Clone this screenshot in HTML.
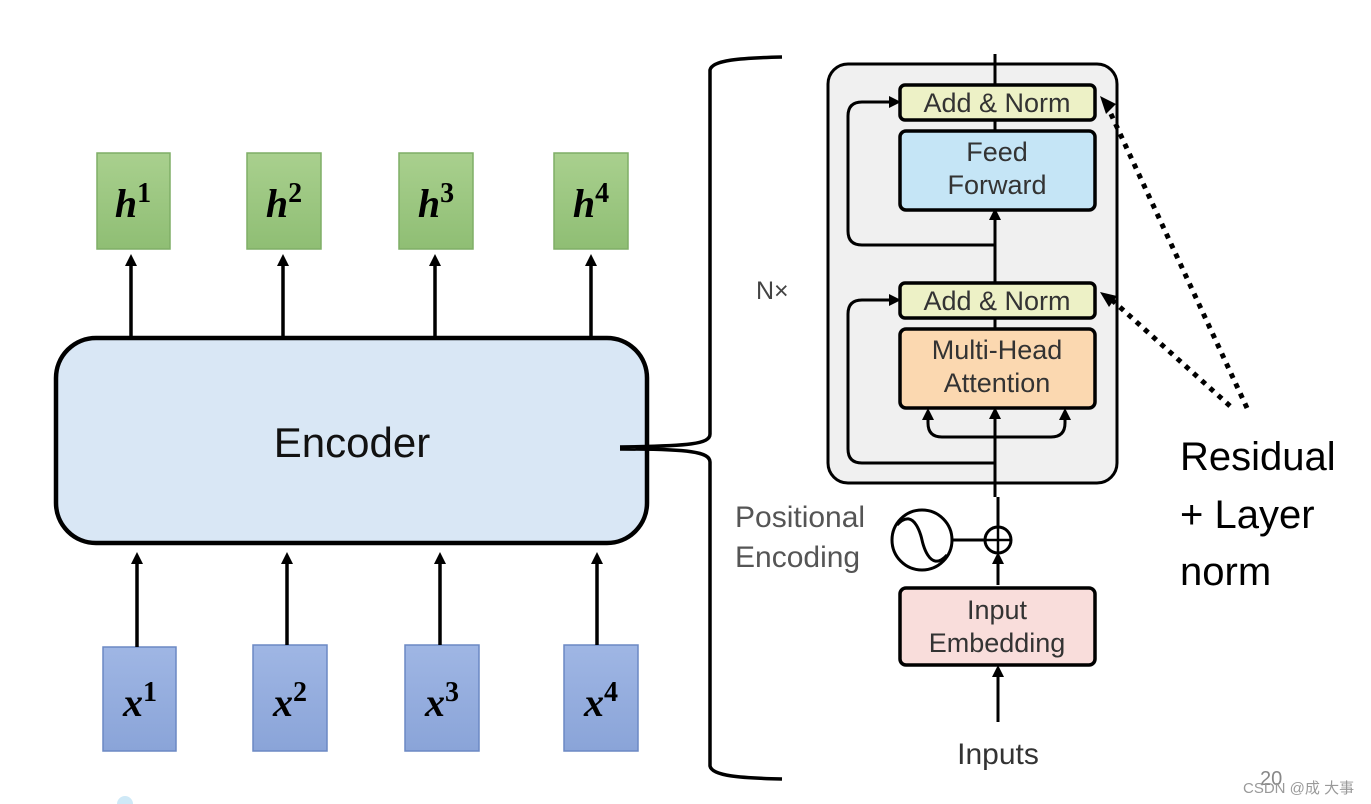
<!DOCTYPE html>
<html><head><meta charset="utf-8"><style>
html,body{margin:0;padding:0;background:#fff;width:1371px;height:804px;overflow:hidden}
svg{display:block}
</style></head><body>
<svg width="1371" height="804" viewBox="0 0 1371 804" xmlns="http://www.w3.org/2000/svg">
<defs>
<marker id="ah" markerWidth="12" markerHeight="12" refX="6" refY="6" orient="auto" markerUnits="userSpaceOnUse"><path d="M0,0 L12,6 L0,12 z" fill="#000"/></marker>
<linearGradient id="gg" x1="0" y1="0" x2="0" y2="1"><stop offset="0" stop-color="#a9d08e"/><stop offset="1" stop-color="#8fbe74"/></linearGradient>
<linearGradient id="bg" x1="0" y1="0" x2="0" y2="1"><stop offset="0" stop-color="#9fb6e4"/><stop offset="1" stop-color="#8aa4d8"/></linearGradient>
</defs>
<g font-family="'Liberation Serif',serif" font-weight="bold" font-style="italic" font-size="40" text-anchor="middle">
<rect x="97" y="153" width="73" height="96" fill="url(#gg)" stroke="#7fae66" stroke-width="1.5"/>
<text x="133" y="217">h<tspan font-style="normal" font-size="28" dy="-15">1</tspan></text>
<rect x="247" y="153" width="74" height="96" fill="url(#gg)" stroke="#7fae66" stroke-width="1.5"/>
<text x="284" y="217">h<tspan font-style="normal" font-size="28" dy="-15">2</tspan></text>
<rect x="399" y="153" width="74" height="96" fill="url(#gg)" stroke="#7fae66" stroke-width="1.5"/>
<text x="436" y="217">h<tspan font-style="normal" font-size="28" dy="-15">3</tspan></text>
<rect x="554" y="153" width="74" height="96" fill="url(#gg)" stroke="#7fae66" stroke-width="1.5"/>
<text x="591" y="217">h<tspan font-style="normal" font-size="28" dy="-15">4</tspan></text>

<rect x="103" y="647" width="73" height="104" fill="url(#bg)" stroke="#6b88c4" stroke-width="1.5"/>
<text x="140" y="716">x<tspan font-style="normal" font-size="28" dy="-15">1</tspan></text>
<rect x="253" y="645" width="74" height="106" fill="url(#bg)" stroke="#6b88c4" stroke-width="1.5"/>
<text x="290" y="716">x<tspan font-style="normal" font-size="28" dy="-15">2</tspan></text>
<rect x="405" y="645" width="74" height="106" fill="url(#bg)" stroke="#6b88c4" stroke-width="1.5"/>
<text x="442" y="716">x<tspan font-style="normal" font-size="28" dy="-15">3</tspan></text>
<rect x="564" y="645" width="74" height="106" fill="url(#bg)" stroke="#6b88c4" stroke-width="1.5"/>
<text x="601" y="716">x<tspan font-style="normal" font-size="28" dy="-15">4</tspan></text>
</g>
<g stroke="#000" stroke-width="3.5" fill="none" marker-end="url(#ah)">
<line x1="131" y1="338" x2="131" y2="260"/>
<line x1="283" y1="338" x2="283" y2="260"/>
<line x1="435" y1="338" x2="435" y2="260"/>
<line x1="591" y1="338" x2="591" y2="260"/>
<line x1="137" y1="647" x2="137" y2="558"/>
<line x1="287" y1="645" x2="287" y2="558"/>
<line x1="440" y1="645" x2="440" y2="558"/>
<line x1="597" y1="645" x2="597" y2="558"/>
</g>
<rect x="56" y="338" width="591" height="205" rx="40" fill="#d9e7f5" stroke="#000" stroke-width="4.5"/>
<text x="352" y="457" font-family="'Liberation Sans',sans-serif" font-size="42" text-anchor="middle" fill="#111">Encoder</text>
<path d="M782,57 C740,58 712,60 710,70 L710,434 C710,444 690,446 620,447 M620,449 C690,449 710,452 710,462 L710,766 C712,776 740,778 782,779" fill="none" stroke="#000" stroke-width="3.5"/>
<text x="756" y="299" font-family="'Liberation Sans',sans-serif" font-size="25" fill="#444">N×</text>
<rect x="828" y="64" width="289" height="419" rx="20" fill="#f0f0f0" stroke="#000" stroke-width="3"/>
<g stroke="#000" stroke-width="3" fill="none">
<line x1="995" y1="54" x2="995" y2="85"/>
<line x1="995" y1="120" x2="995" y2="130"/>
<line x1="995" y1="318" x2="995" y2="328"/>
<line x1="995" y1="283" x2="995" y2="214" marker-end="url(#ah)"/>
<line x1="995" y1="497" x2="995" y2="413" marker-end="url(#ah)"/>
<line x1="998" y1="585" x2="998" y2="558" marker-end="url(#ah)"/>
<line x1="998" y1="527" x2="998" y2="497"/>
<line x1="998" y1="722" x2="998" y2="671" marker-end="url(#ah)"/>
<path d="M995,245 L862,245 Q848,245 848,231 L848,116 Q848,102 862,102 L895,102" marker-end="url(#ah)"/>
<path d="M995,463 L862,463 Q848,463 848,449 L848,314 Q848,300 862,300 L895,300" marker-end="url(#ah)"/>
<path d="M995,437 L942,437 Q928,437 928,423 L928,414" marker-end="url(#ah)"/>
<path d="M995,437 L1051,437 Q1065,437 1065,423 L1065,414" marker-end="url(#ah)"/>
</g>
<g stroke="#000" stroke-width="3.5">
<rect x="900" y="85" width="195" height="35" rx="5" fill="#edf1c6"/>
<rect x="900" y="131" width="195" height="79" rx="6" fill="#c5e5f6"/>
<rect x="900" y="283" width="195" height="35" rx="5" fill="#edf1c6"/>
<rect x="900" y="329" width="195" height="79" rx="6" fill="#fbd8b0"/>
<rect x="900" y="588" width="195" height="77" rx="6" fill="#f9dddb"/>
</g>
<g font-family="'Liberation Sans',sans-serif" font-size="27" text-anchor="middle" fill="#333">
<text x="997" y="112">Add &amp; Norm</text>
<text x="997" y="161">Feed</text>
<text x="997" y="194">Forward</text>
<text x="997" y="310">Add &amp; Norm</text>
<text x="997" y="359">Multi-Head</text>
<text x="997" y="392">Attention</text>
<text x="997" y="619">Input</text>
<text x="997" y="652">Embedding</text>
<text x="998" y="764" font-size="30">Inputs</text>
<text x="735" y="527" font-size="30" text-anchor="start" fill="#555">Positional</text>
<text x="735" y="567" font-size="30" text-anchor="start" fill="#555">Encoding</text>
</g>
<circle cx="998" cy="540" r="13" fill="#fff" stroke="#000" stroke-width="3"/>
<path d="M985,540 H1011 M998,527 V553" stroke="#000" stroke-width="2.5"/>
<circle cx="922" cy="540" r="30" fill="#fff" stroke="#000" stroke-width="3"/>
<path d="M897,525 C915,505 922,540 922,540 C922,540 929,575 947,555" fill="none" stroke="#000" stroke-width="3"/>
<line x1="952" y1="540" x2="985" y2="540" stroke="#000" stroke-width="3"/>
<g stroke="#000" stroke-width="5" stroke-dasharray="5,6" fill="none">
<line x1="1247" y1="408" x2="1110" y2="112"/>
<line x1="1230" y1="406" x2="1112" y2="300"/>
</g>
<path d="M1100,96 L1116,104 L1106,114 z" fill="#000"/>
<path d="M1100,292 L1117,296 L1109,307 z" fill="#000"/>
<g font-family="'Liberation Sans',sans-serif" font-size="40" fill="#000">
<text x="1180" y="470">Residual</text>
<text x="1180" y="528">+ Layer</text>
<text x="1180" y="585">norm</text>
</g>
<text x="1260" y="785" font-family="'Liberation Sans',sans-serif" font-size="20" fill="#888">20</text>
<text x="1243" y="793" font-family="'Liberation Sans','Noto Sans CJK SC',sans-serif" font-size="15" fill="#999">CSDN @成 大事</text>
<circle cx="125" cy="804" r="8" fill="#cfe9f7"/>
</svg>
</body></html>
